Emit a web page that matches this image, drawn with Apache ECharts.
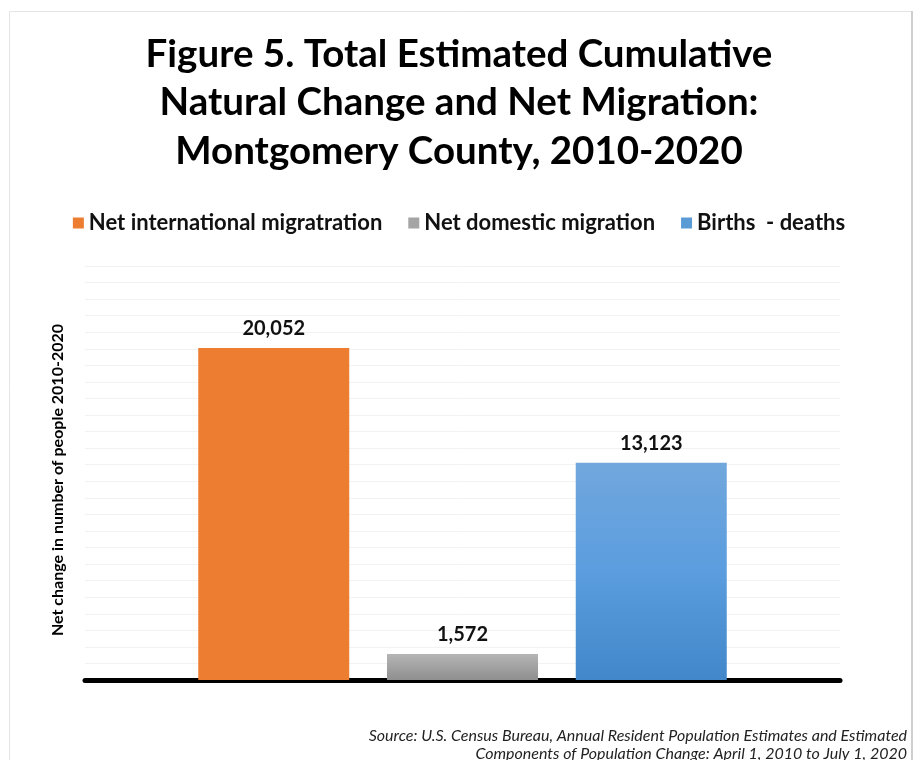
<!DOCTYPE html>
<html>
<head>
<meta charset="utf-8">
<script src="https://cdn.jsdelivr.net/npm/echarts@6/dist/echarts.min.js"></script>
<style>
html,body{margin:0;padding:0;background:#fff;}
#c{width:918px;height:760px;}
</style>
</head>
<body>
<div id="c"></div>
<script>
var seriesNames = ['Net international migratration', 'Net domestic migration', 'Births  - deaths'];
var seriesValues = [20052, 1572, 13123];
var categories = [''];
var titleText = 'Figure 5. Total Estimated Cumulative\nNatural Change and Net Migration:\nMontgomery County, 2010-2020';
var yAxisTitle = 'Net change in number of people 2010-2020';
var sourceLines = ['Source: U.S. Census Bureau, Annual Resident Population Estimates and Estimated', 'Components of Population Change: April 1, 2010 to July 1, 2020'];

var FONT = 'Lato';
var colors = [
  '#ed7d31',
  new echarts.graphic.LinearGradient(0,0,0,1,[{offset:0,color:'#b5b5b5'},{offset:1,color:'#8f8f8f'}]),
  new echarts.graphic.LinearGradient(0,0,0,1,[{offset:0,color:'#71a7dc'},{offset:0.5,color:'#5b9ddf'},{offset:1,color:'#4187c9'}])
];
var legendColors = ['#ed7d31', '#a5a5a5', '#5b9bd5'];

var chart = echarts.init(document.getElementById('c'));
var series = seriesNames.map(function(n, i){
  return {
    name: n,
    type: 'bar',
    data: [seriesValues[i]],
    barWidth: 151,
    barGap: '25%',
    itemStyle: {color: colors[i]},
    label: {
      show: true, position: 'top', distance: 9,
      fontFamily: FONT, fontWeight: 'bold', fontSize: 20, color: '#111',
      formatter: function(p){ return p.value.toLocaleString('en-US'); }
    }
  };
});

chart.setOption({
  animation: false,
  backgroundColor: '#fff',
  title: {
    text: titleText,
    left: 'center',
    top: 25,
    textStyle: {fontFamily: FONT, fontWeight: 'bold', fontSize: 38.5, lineHeight: 48.5, color: '#000'}
  },
  legend: {
    data: seriesNames.map(function(n, i){ return {name: n, itemStyle: {color: legendColors[i]}}; }),
    top: 207,
    left: 'center',
    itemWidth: 11,
    itemHeight: 11,
    itemGap: 26,
    icon: 'rect',
    textStyle: {fontFamily: FONT, fontWeight: 'bold', fontSize: 22, color: '#111'}
  },
  grid: {left: 85, right: 78, top: 266, bottom: 80, containLabel: false},
  xAxis: {
    type: 'category',
    data: categories,
    axisLine: {show: true, lineStyle: {color: '#000', width: 5}},
    axisTick: {show: false},
    axisLabel: {show: false}
  },
  yAxis: {
    type: 'value',
    min: 0, max: 25000, interval: 1000,
    axisLine: {show: false},
    axisTick: {show: false},
    axisLabel: {show: false},
    splitLine: {show: true, lineStyle: {color: '#f2f2f2', width: 1}}
  },
  series: series,
  graphic: [
    {type: 'rect', shape: {x: 9.5, y: 11.5, width: 902, height: 760}, style: {fill: 'none', stroke: '#e4e4e4', lineWidth: 1}, silent: true},
    {type: 'line', shape: {x1: 912, y1: 11, x2: 912, y2: 760}, style: {stroke: '#cfcfcf', lineWidth: 2}, silent: true},
    {type: 'text', x: 58, y: 480, rotation: Math.PI / 2, style: {text: yAxisTitle, fontFamily: FONT, fontWeight: 'bold', fontSize: 16, fill: '#000', align: 'center', verticalAlign: 'middle'}, silent: true},
    {type: 'text', right: 11, top: 728, style: {text: sourceLines[0], fontFamily: FONT, fontStyle: 'italic', fontSize: 16, fill: '#222', align: 'right'}},
    {type: 'text', right: 11, top: 746, style: {text: sourceLines[1], fontFamily: FONT, fontStyle: 'italic', fontSize: 16, fill: '#222', align: 'right'}}
  ]
});
</script>
</body>
</html>
